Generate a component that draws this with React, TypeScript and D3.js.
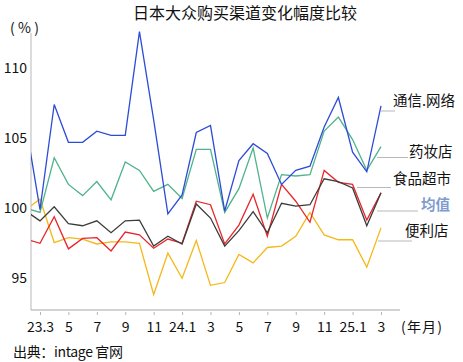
import React, { useRef, useEffect } from 'react';
import * as d3 from 'd3';

// months: 23.2 ... 25.3 (first point sits left of the plot and gets clipped)
const months = [
  '23.2', '23.3', '23.4', '23.5', '23.6', '23.7', '23.8', '23.9', '23.10', '23.11', '23.12',
  '24.1', '24.2', '24.3', '24.4', '24.5', '24.6', '24.7', '24.8', '24.9', '24.10', '24.11', '24.12',
  '25.1', '25.2', '25.3',
];

const tickIdx = [1, 3, 5, 7, 9, 11, 13, 15, 17, 19, 21, 23, 25];
const tickLabels = ['23.3', '5', '7', '9', '11', '24.1', '3', '5', '7', '9', '11', '25.1', '3'];
const yTicks = [95, 100, 105, 110];

const telecom = [106.0, 99.9, 107.4, 104.7, 104.7, 105.5, 105.2, 105.2, 112.6, 106.3, 99.6,
  100.95, 105.4, 105.9, 99.8, 103.4, 104.6, 103.9, 101.7, 102.7, 103.0, 105.8, 107.9,
  104.0, 102.6, 107.3];
const drugstore = [100.0, 99.7, 103.6, 101.7, 100.9, 101.9, 100.6, 103.3, 102.7, 101.2, 101.7,
  100.7, 104.2, 104.2, 99.7, 101.4, 104.3, 99.3, 102.4, 102.3, 102.4, 105.5, 106.5,
  104.9, 102.7, 104.4];
const grocery = [97.8, 97.5, 99.4, 97.1, 97.85, 97.9, 96.95, 98.3, 98.1, 97.15, 97.8,
  97.5, 100.5, 100.25, 97.45, 98.8, 101.0, 98.0, 101.7, 100.5, 99.0, 102.7, 101.85,
  101.7, 99.15, 101.1];
const average = [99.8, 99.1, 100.1, 98.9, 98.75, 99.1, 98.25, 99.1, 99.15, 97.3, 98.0,
  97.45, 100.3, 99.3, 97.3, 98.4, 99.75, 98.25, 100.35, 100.15, 100.25, 102.1, 101.9,
  101.45, 98.75, 101.1];
const conv = [99.9, 100.65, 97.55, 97.9, 97.8, 97.45, 97.6, 97.6, 97.5, 93.85, 96.8,
  95.0, 97.7, 94.5, 94.7, 96.7, 96.1, 97.2, 97.3, 98.0, 99.7, 98.1, 97.75,
  97.75, 95.8, 98.6];

const seriesNames = ['便利店', '食品超市', '均值', '药妆店', '通信.网络'];
const seriesValues = [conv, grocery, average, drugstore, telecom];
const seriesColors = ['#f5b819', '#e8262b', '#3c3c3c', '#4fb38c', '#2d4cd6'];

// annotation layout (label box left, text centre y, leader start/end, leader y)
const annotations = [
  { name: '通信.网络', tx: 393, ty: 101, x1: 381, x2: 395, ly: 111, color: '#111', weight: 400 },
  { name: '药妆店', tx: 409, ty: 152, x1: 377, x2: 408, ly: 157.5, color: '#111', weight: 400 },
  { name: '食品超市', tx: 393, ty: 179, x1: 357, x2: 391, ly: 187.5, color: '#111', weight: 400 },
  { name: '均值', tx: 421, ty: 205, x1: 377, x2: 418, ly: 211, color: '#7f9bcf', weight: 700 },
  { name: '便利店', tx: 405, ty: 231, x1: 378, x2: 412, ly: 241, color: '#111', weight: 400 },
];

const FONT = '"Noto Sans CJK SC", "Noto Sans", sans-serif';

const App = () => {
  const svgRef = useRef(null);

  useEffect(() => {
    if (!svgRef.current) return;
    const width = 463;
    const height = 362;
    const plot = { left: 31, right: 400, top: 33, bottom: 310 };

    const svg = d3.select(svgRef.current);
    svg.selectAll('*').remove();
    svg.attr('width', width).attr('height', height).attr('viewBox', `0 0 ${width} ${height}`);

    const xScale = d3.scaleLinear().domain([1, 25]).range([40, 381]);
    const yScale = d3.scaleLinear().domain([92.74, 112.5]).range([plot.bottom, plot.top]);

    svg.append('defs').append('clipPath')
      .attr('id', 'plotclip')
      .append('rect')
      .attr('x', plot.left)
      .attr('y', 0)
      .attr('width', plot.right - plot.left)
      .attr('height', plot.bottom);

    const addText = (x, y, str, size, len?) => {
      const t = svg.append('text')
        .attr('x', x)
        .attr('y', y)
        .attr('dy', '0.36em')
        .attr('font-family', FONT)
        .attr('font-size', size)
        .attr('fill', '#111')
        .text(str);
      if (len) t.attr('textLength', len).attr('lengthAdjust', 'spacing');
      return t;
    };

    // title
    addText(245, 13, '日本大众购买渠道变化幅度比较', 16).attr('text-anchor', 'middle');
    addText(10, 28, '(%)', 14, 29);

    // axis lines
    svg.append('line')
      .attr('x1', plot.left).attr('x2', plot.left)
      .attr('y1', plot.top).attr('y2', plot.bottom)
      .attr('stroke', '#c4c4c4').attr('stroke-width', 1.2);
    svg.append('line')
      .attr('x1', plot.left).attr('x2', plot.right)
      .attr('y1', plot.bottom).attr('y2', plot.bottom)
      .attr('stroke', '#a8a8a8').attr('stroke-width', 1.2);

    // x axis ticks + labels (ticks sit just under the line)
    const xAxis = d3.axisBottom(xScale)
      .tickValues(tickIdx)
      .tickFormat((d, i) => tickLabels[i])
      .tickSize(3)
      .tickPadding(7);
    const gx = svg.append('g')
      .attr('transform', `translate(0, ${plot.bottom + 2})`)
      .call(xAxis);
    gx.select('.domain').remove();
    gx.selectAll('line').attr('stroke', '#b5b5b5');
    gx.selectAll('text')
      .attr('font-family', FONT)
      .attr('font-size', 14)
      .attr('fill', '#111');

    addText(401, 327, '(年月)', 14, 41);

    // y axis labels
    const yAxis = d3.axisLeft(yScale)
      .tickValues(yTicks)
      .tickSize(0)
      .tickPadding(0);
    const gy = svg.append('g')
      .attr('transform', 'translate(27, 0)')
      .call(yAxis);
    gy.select('.domain').remove();
    gy.selectAll('text')
      .attr('font-family', FONT)
      .attr('font-size', 14)
      .attr('fill', '#111');

    // lines
    const line = d3.line()
      .x((d, i) => xScale(i))
      .y(d => yScale(d));

    const lines = svg.append('g').attr('clip-path', 'url(#plotclip)');
    seriesValues.forEach((vals, k) => {
      lines.append('path')
        .datum(vals)
        .attr('fill', 'none')
        .attr('stroke', seriesColors[k])
        .attr('stroke-width', 1.3)
        .attr('stroke-linejoin', 'miter')
        .attr('d', line);
    });

    // right-hand labels with leaders
    annotations.forEach(a => {
      svg.append('line')
        .attr('x1', a.x1).attr('x2', a.x2)
        .attr('y1', a.ly).attr('y2', a.ly)
        .attr('stroke', '#b8b8b8').attr('stroke-width', 1);
      addText(a.tx, a.ty, a.name, 14.5)
        .attr('font-weight', a.weight)
        .attr('fill', a.color);
    });

    // source
    addText(13, 352, '出典：intage 官网', 14, 110);
  }, []);

  return (
    <div style={{ position: 'absolute', left: 0, top: 0, background: '#fff' }}>
      <svg ref={svgRef} style={{ display: 'block' }} />
    </div>
  );
};

export default App;
